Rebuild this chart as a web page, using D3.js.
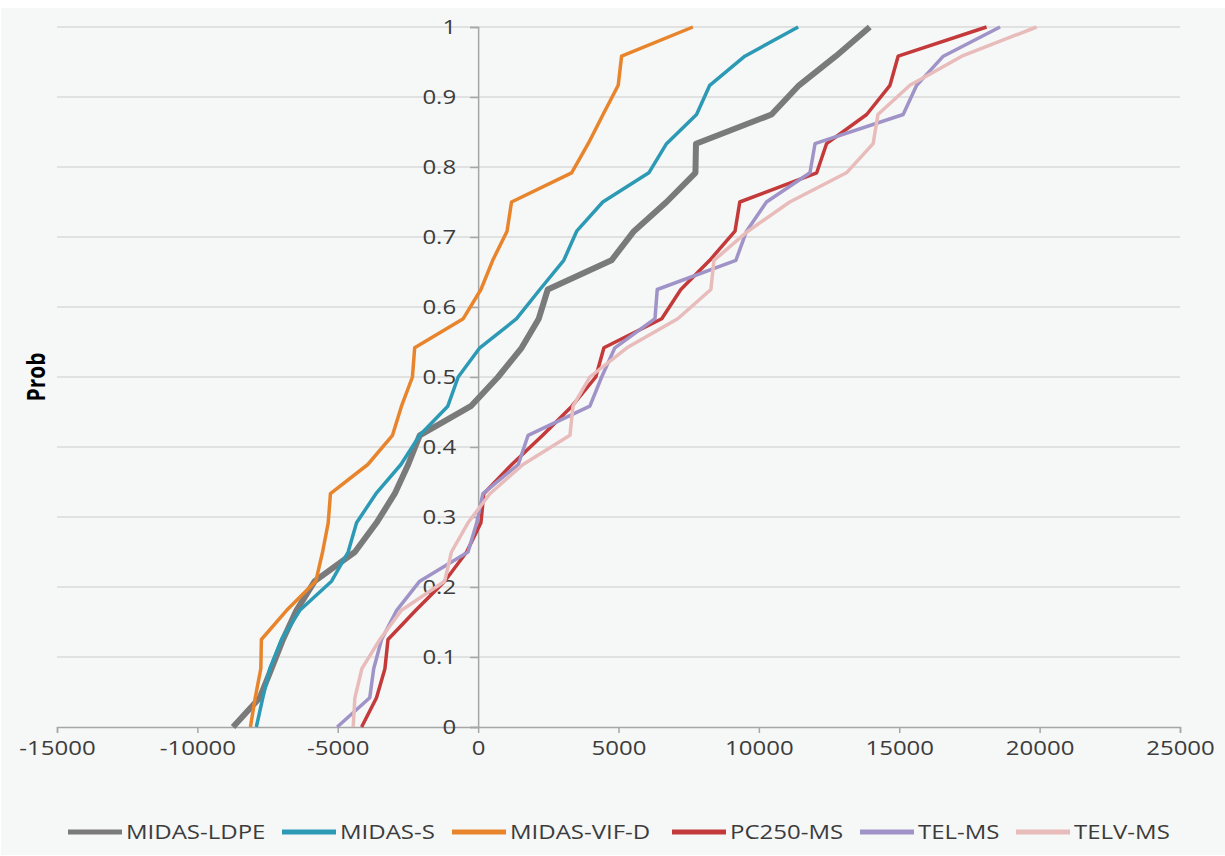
<!DOCTYPE html>
<meta charset='utf-8'>
<style type="text/css">
  body { margin: 0; background: #fff; }
  svg text { font-family: "Open Sans", "Noto Sans", sans-serif; fill: #3c3c3c; }
</style>
<body>
<div class="chart"></div>
<script src='https://cdn.jsdelivr.net/npm/d3@7/dist/d3.min.js'></script>
<script>

// cumulative probability levels (24 runs)
var probs = [0, 0.0417, 0.0833, 0.125, 0.1667, 0.2083, 0.25, 0.2917, 0.3333, 0.375, 0.4167, 0.4583,
             0.5, 0.5417, 0.5833, 0.625, 0.6667, 0.7083, 0.75, 0.7917, 0.8333, 0.875, 0.9167, 0.9583, 1];

var midasLdpe = [-8730, -7780, -7360, -6950, -6470, -5820, -4390, -3620, -2970, -2490, -2080, -260,
                 710, 1550, 2160, 2480, 4750, 5550, 6710, 7740, 7760, 10450, 11430, 12740, 13950];
var midasS    = [-7900, -7670, -7420, -7000, -6350, -5220, -4630, -4330, -3640, -2750, -2080, -1080,
                 -710, 60, 1370, 2200, 3050, 3510, 4440, 6080, 6710, 7780, 8250, 9500, 11400];
var midasVifD = [-8110, -7940, -7740, -7720, -6820, -5780, -5540, -5340, -5260, -3930, -3050, -2730,
                 -2340, -2260, -530, 100, 520, 1030, 1190, 3330, 3920, 4450, 4990, 5110, 7650];
var pc250Ms   = [-4150, -3620, -3320, -3210, -2220, -1190, -410, 100, 200, 1200, 2300, 3340,
                 4190, 4480, 6540, 7220, 8250, 9150, 9320, 12060, 12410, 13840, 14670, 14960, 18110];
var telMs     = [-5020, -3860, -3720, -3440, -2900, -2080, -360, -50, 170, 1430, 1780, 3980,
                 4400, 4870, 6300, 6380, 9180, 9560, 10270, 11820, 12000, 15140, 15620, 16570, 18590];
var telvMs    = [-4450, -4390, -4140, -3500, -2730, -1190, -950, -360, 420, 1600, 3270, 3380,
                 3980, 5300, 7110, 8290, 8400, 9610, 11100, 13120, 14070, 14240, 15380, 17230, 19890];

var seriesNames = ['MIDAS-LDPE', 'MIDAS-S', 'MIDAS-VIF-D', 'PC250-MS', 'TEL-MS', 'TELV-MS'];
var seriesValues = [midasLdpe, midasS, midasVifD, pc250Ms, telMs, telvMs];
var seriesColors = ['#7a7a7a', '#2c9ab5', '#e8852c', '#c43a3a', '#a093c7', '#e8bcbb'];
var seriesWidths = [6, 3.5, 3.5, 3.5, 3.5, 3.5];

var xTicks = [-15000, -10000, -5000, 0, 5000, 10000, 15000, 20000, 25000];
var yTicks = [0, 0.1, 0.2, 0.3, 0.4, 0.5, 0.6, 0.7, 0.8, 0.9, 1];

var width = 1225, height = 856;
var stretch = 1.2;   // the original text is wide

var svg = d3.select('.chart')
	.append('svg')
	.attr('width', width)
	.attr('height', height);

svg.append('rect')
	.attr('x', 1)
	.attr('y', 8)
	.attr('width', width - 1)
	.attr('height', height - 9)
	.attr('fill', '#f6f7f7');

var x = d3.scaleLinear().domain([-15000, 25000]).range([57, 1180]);
var y = d3.scaleLinear().domain([0, 1]).range([727, 27]);

// horizontal gridlines
svg.append('g')
	.selectAll('line')
	.data(yTicks.slice(1))
	.enter().append('line')
	.attr('x1', x(-15000))
	.attr('x2', x(25000))
	.attr('y1', function(d){ return y(d); })
	.attr('y2', function(d){ return y(d); })
	.attr('stroke', '#dadada')
	.attr('stroke-width', 1.5);

// x axis
var xAxis = svg.append('g')
	.attr('transform', 'translate(0,' + y(0) + ')')
	.call(d3.axisBottom(x).tickValues(xTicks).tickSize(6).tickPadding(8)
		.tickFormat(function(d){ return String(d); }));
xAxis.select('.domain').attr('stroke', '#a6a6a6').attr('stroke-width', 1.5);
xAxis.selectAll('.tick line').attr('stroke', '#a6a6a6').attr('stroke-width', 1.5);
xAxis.selectAll('.tick text')
	.attr('font-size', 20)
	.attr('fill', '#3c3c3c')
	.attr('transform', 'scale(' + stretch + ',1)')
	.style('font-family', '"Open Sans", "Noto Sans", sans-serif');

// y axis at x = 0
var yAxis = svg.append('g')
	.attr('transform', 'translate(' + x(0) + ',0)')
	.call(d3.axisLeft(y).tickValues(yTicks).tickSize(8).tickPadding(14)
		.tickFormat(function(d){ return String(d); }));
yAxis.select('.domain').attr('stroke', '#a6a6a6').attr('stroke-width', 1.5);
yAxis.selectAll('.tick line').attr('stroke', '#a6a6a6').attr('stroke-width', 1.5);
yAxis.selectAll('.tick text')
	.attr('font-size', 20)
	.attr('fill', '#3c3c3c')
	.attr('x', -22 / stretch)
	.attr('transform', 'scale(' + stretch + ',1)')
	.style('font-family', '"Open Sans", "Noto Sans", sans-serif');

svg.append('text')
	.attr('transform', 'translate(45,' + y(0.5) + ') rotate(-90) scale(1,' + stretch + ')')
	.attr('text-anchor', 'middle')
	.attr('font-size', 21)
	.attr('font-weight', 'bold')
	.style('fill', '#000')
	.text('Prob');

var line = d3.line()
	.x(function(d){ return x(d[0]); })
	.y(function(d){ return y(d[1]); });

seriesValues.forEach(function(vals, i){
	svg.append('path')
		.datum(vals.map(function(v, k){ return [v, probs[k]]; }))
		.attr('fill', 'none')
		.attr('stroke', seriesColors[i])
		.attr('stroke-width', seriesWidths[i])
		.attr('stroke-linejoin', 'round')
		.attr('d', line);
});

// legend
var legendX = [68, 282, 452, 672, 860, 1016];
var legend = svg.append('g');
seriesNames.forEach(function(name, i){
	legend.append('line')
		.attr('x1', legendX[i])
		.attr('x2', legendX[i] + 54)
		.attr('y1', 832)
		.attr('y2', 832)
		.attr('stroke', seriesColors[i])
		.attr('stroke-width', 5);
	legend.append('text')
		.attr('x', (legendX[i] + 58) / stretch)
		.attr('y', 832)
		.attr('dy', '0.35em')
		.attr('font-size', 20)
		.attr('transform', 'scale(' + stretch + ',1)')
		.text(name);
});

</script>
</body>
</html>
